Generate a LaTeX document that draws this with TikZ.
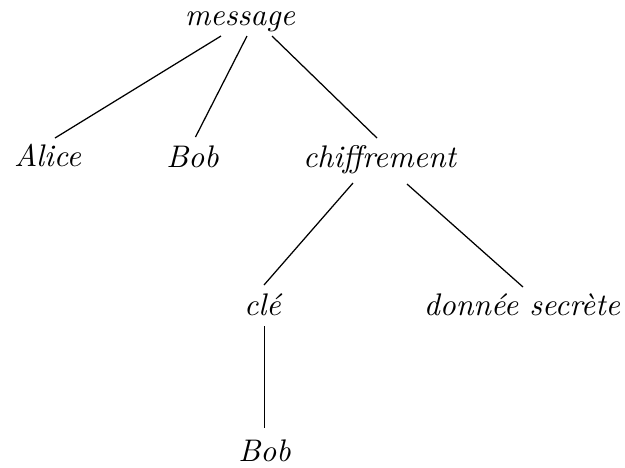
\documentclass[tikz,border=0pt]{standalone}
\usepackage{fontspec}
\usetikzlibrary{calc}
\begin{document}
\begin{tikzpicture}[x=0.32pt,y=-0.32pt,
  lbl/.style={anchor=base,inner sep=0pt,font=\itshape},
  edge/.style={draw=black,line width=0.4pt}]
\useasboundingbox (0,0) rectangle (625,467);
\node[lbl] (message) at (240,25) {message};
\node[lbl] (alice) at (47.5,166.7) {Alice};
\node[lbl] (bob) at (192.5,167) {Bob};
\node[lbl] (chiff) at (379.5,167) {chiffrement};
\node[lbl] (cle) at (262.5,315) {clé};
\node[lbl] (donnee) at (522,315) {donnée secrète};
\node[lbl] (bobb) at (264.5,461.7) {Bob};
\draw[edge] ($(message.base)+(-19,11)$) -- ($(alice.base)+(7.5,-28.7)$);
\draw[edge] ($(message.base)+(7,11)$) -- ($(bob.base)+(3,-30)$);
\draw[edge] ($(message.base)+(32,11)$) -- ($(chiff.base)+(-2.5,-29)$);
\draw[edge] ($(chiff.base)+(-26.5,16)$) -- ($(cle.base)+(1.5,-30)$);
\draw[edge] ($(chiff.base)+(27.5,17)$) -- ($(donnee.base)+(1,-28)$);
\draw[edge] ($(cle.base)+(2,11)$) -- ($(bobb.base)+(0,-33.7)$);
\end{tikzpicture}
\end{document}
